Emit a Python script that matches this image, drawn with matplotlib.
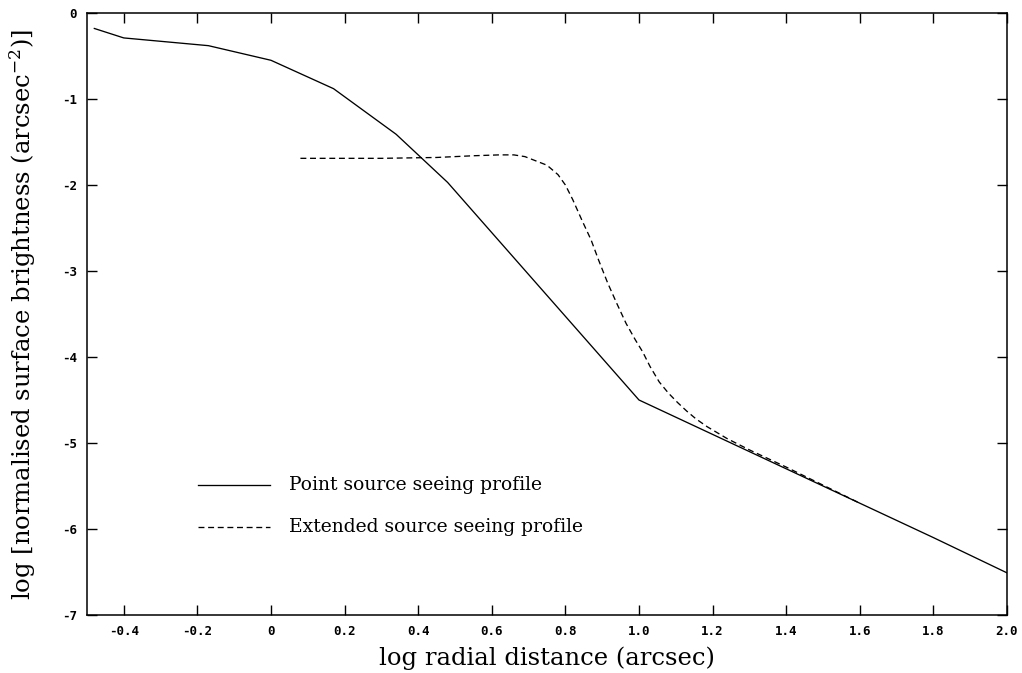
import numpy as np
import matplotlib
matplotlib.use("Agg")
import matplotlib.pyplot as plt

plt.rcParams['axes.unicode_minus'] = False
plt.rcParams['mathtext.fontset'] = 'dejavuserif'

# point source seeing profile (solid)
point_x = [-0.48, -0.40, -0.17, 0.0, 0.17, 0.34, 0.48, 1.0, 1.2, 1.4, 1.6, 1.8, 2.0]
point_y = [-0.18, -0.29, -0.38, -0.55, -0.88, -1.41, -1.97, -4.50, -4.90, -5.30, -5.70, -6.10, -6.51]

# extended source seeing profile (dashed)
ext_x = [0.08, 0.3, 0.45, 0.55, 0.62, 0.66, 0.69, 0.75, 0.78, 0.80, 0.82, 0.845, 0.87, 0.89,
         0.915, 0.94, 0.965, 0.99, 1.01, 1.03, 1.055, 1.08, 1.105, 1.13, 1.155, 1.185,
         1.24, 1.3, 1.4, 1.5, 1.6]
ext_y = [-1.69, -1.69, -1.68, -1.66, -1.65, -1.65, -1.67, -1.77, -1.88, -2.00, -2.17, -2.41,
         -2.64, -2.87, -3.14, -3.38, -3.61, -3.80, -3.94, -4.11, -4.29, -4.42, -4.53,
         -4.63, -4.72, -4.81, -4.95, -5.08, -5.28, -5.49, -5.70]

xticks = [-0.4, -0.2, 0, 0.2, 0.4, 0.6, 0.8, 1.0, 1.2, 1.4, 1.6, 1.8, 2.0]
xlabels = ['-0.4', '-0.2', '0', '0.2', '0.4', '0.6', '0.8', '1.0', '1.2', '1.4', '1.6', '1.8', '2.0']
yticks = [0, -1, -2, -3, -4, -5, -6, -7]

dash = (0, (4.5, 2.8))

fig = plt.figure(figsize=(10.22, 6.73), dpi=100)
ax = fig.add_axes([0.0851, 0.0862, 0.9002, 0.8945])

ax.plot(point_x, point_y, color='black', lw=0.95)
ax.plot(ext_x, ext_y, color='black', lw=0.95, linestyle=dash)

ax.set_xlim(-0.5, 2.0)
ax.set_ylim(-7, 0)

ax.set_xticks(xticks)
ax.set_xticklabels(xlabels)
ax.set_yticks(yticks)
ax.tick_params(direction='in', length=7, width=1, top=True, right=True,
               labelsize=9, pad=7)
for lab in ax.get_xticklabels() + ax.get_yticklabels():
    lab.set_family('DejaVu Sans Mono')
    lab.set_fontweight('bold')
for s in ax.spines.values():
    s.set_linewidth(1.1)

ax.set_xlabel('log radial distance (arcsec)', family='DejaVu Serif', fontsize=17.5, labelpad=6)
ax.set_ylabel(r'log [normalised surface brightness (arcsec$^{-2}$)]',
              family='DejaVu Serif', fontsize=17.5)
ax.yaxis.set_label_coords(-0.053, 0.5)

# hand-made legend
ax.plot([0.121, 0.199], [0.216, 0.216], transform=ax.transAxes, color='black', lw=0.95)
ax.plot([0.121, 0.199], [0.146, 0.146], transform=ax.transAxes, color='black', lw=0.95,
        linestyle=dash)
ax.text(0.220, 0.216, 'Point source seeing profile', transform=ax.transAxes,
        va='center', family='DejaVu Serif', fontsize=13.5)
ax.text(0.220, 0.146, 'Extended source seeing profile', transform=ax.transAxes,
        va='center', family='DejaVu Serif', fontsize=13.5)

fig.savefig('out.png', dpi=100)
